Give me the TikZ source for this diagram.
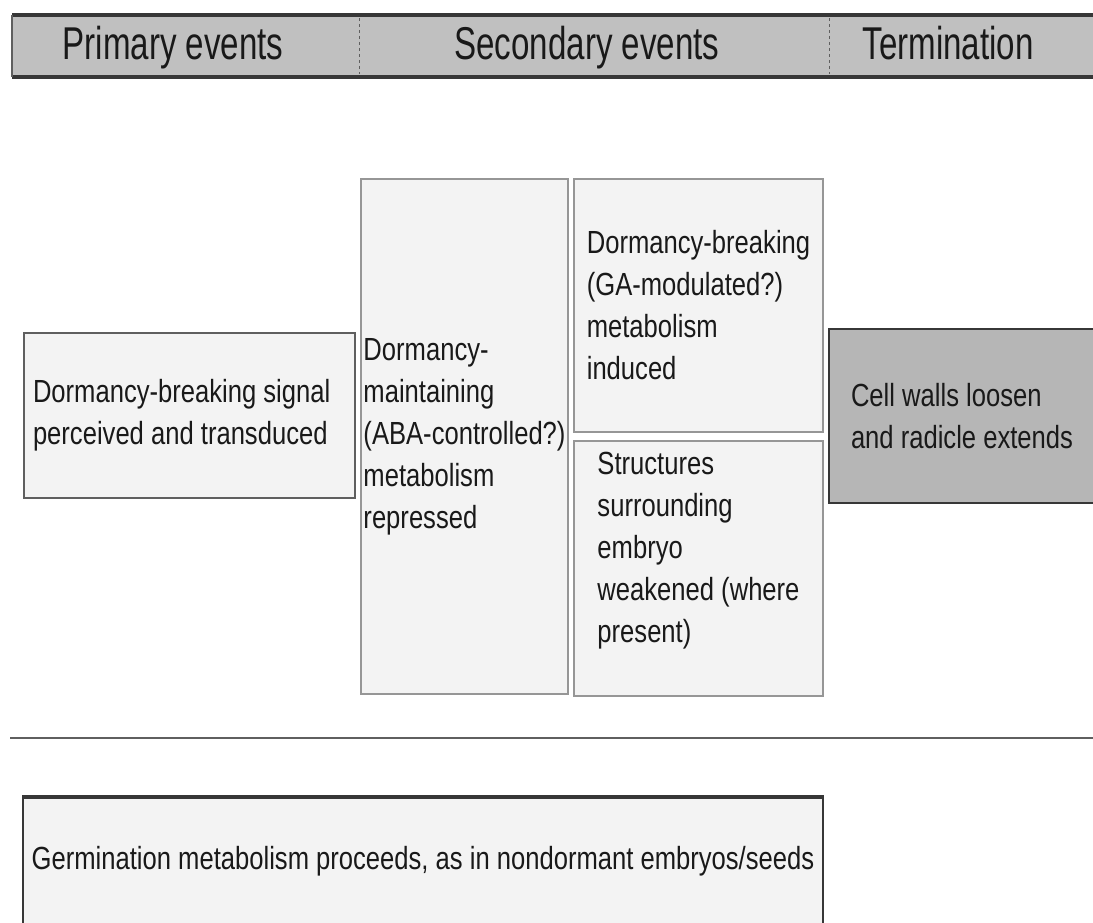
\documentclass[tikz,border=0pt]{standalone}
\usepackage{fontspec}
\setmainfont{Liberation Sans}[FakeStretch=0.8]
\newfontfamily\headfont{Liberation Sans}[FakeStretch=0.72]
\usepackage{xcolor}
\usetikzlibrary{positioning}

\definecolor{headgray}{RGB}{192,192,192}
\definecolor{termgray}{RGB}{182,182,182}
\definecolor{panelfill}{RGB}{243,243,243}
\definecolor{darkline}{RGB}{55,55,55}
\definecolor{midline}{RGB}{95,95,95}
\definecolor{lightline}{RGB}{150,150,150}
\definecolor{inkgray}{RGB}{25,25,25}

\begin{document}
\begin{tikzpicture}[
  x=1pt, y=-1pt,
  head/.style={font=\headfont\fontsize{46}{50}\selectfont, text=inkgray, inner sep=0pt, anchor=base},
  panel/.style={
    draw=lightline,
    fill=panelfill,
    line width=2pt,
    align=flush left,
    anchor=north west,
    inner sep=0pt,
    text=inkgray,
    font=\fontsize{32}{42}\selectfont
  },
  frame/.style={panel, draw=midline},
  final/.style={panel, draw=darkline, fill=termgray},
  headline/.style={line width=4pt, draw=darkline},
  divider/.style={dashed, line width=1pt, draw=midline},
  rule/.style={line width=2pt, draw=midline}
]
  \useasboundingbox (0,0) rectangle (1093,923);

  % header band
  \fill[headgray] (12,15) rectangle (1096,77);
  \draw[headline] (12,15) -- (1096,15);
  \draw[headline] (12,77) -- (1096,77);
  \draw[line width=1.5pt, draw=midline] (12,15) -- (12,77);
  \draw[divider] (359,18) -- (359,74);
  \draw[divider] (829,18) -- (829,74);
  \node[head] (hprim) at (173,60) {Primary events};
  \node[head] (hsec) at (587,60) {Secondary events};
  \node[head] (hterm) at (948,60) {Termination};

  % event boxes
  \node[frame, text width=313pt, inner xsep=9pt, minimum height=165pt] (signal) at (23,332)
    {Dormancy-breaking signal\\perceived and transduced};
  \node[panel, minimum width=207pt, minimum height=515pt] (repress) at (360,178)
    {Dormancy-\\maintaining\\(ABA-controlled?)\\metabolism\\repressed};
  \node[panel, minimum width=249pt, minimum height=253pt,
        below right=0pt and 4pt of repress.north east] (induce)
    {Dormancy-breaking\\(GA-modulated?)\\metabolism\\induced};
  \node[panel, minimum width=249pt, minimum height=255pt,
        below=7pt of induce.south west, anchor=north west] (weaken)
    {Structures\\surrounding\\embryo\\weakened (where\\present)\\ \mbox{}};
  \node[final, minimum width=266pt, minimum height=174pt] (walls) at (828,328)
    {Cell walls loosen\\and radicle extends};

  % lower part
  \draw[rule] (10,738) -- (1096,738);
  \node[final, fill=panelfill, minimum width=800pt, minimum height=126pt] (germ) at (22,797)
    {Germination metabolism proceeds, as in nondormant embryos/seeds};
  \draw[line width=3.5pt, draw=darkline] (germ.north west) -- (germ.north east);
\end{tikzpicture}
\end{document}
